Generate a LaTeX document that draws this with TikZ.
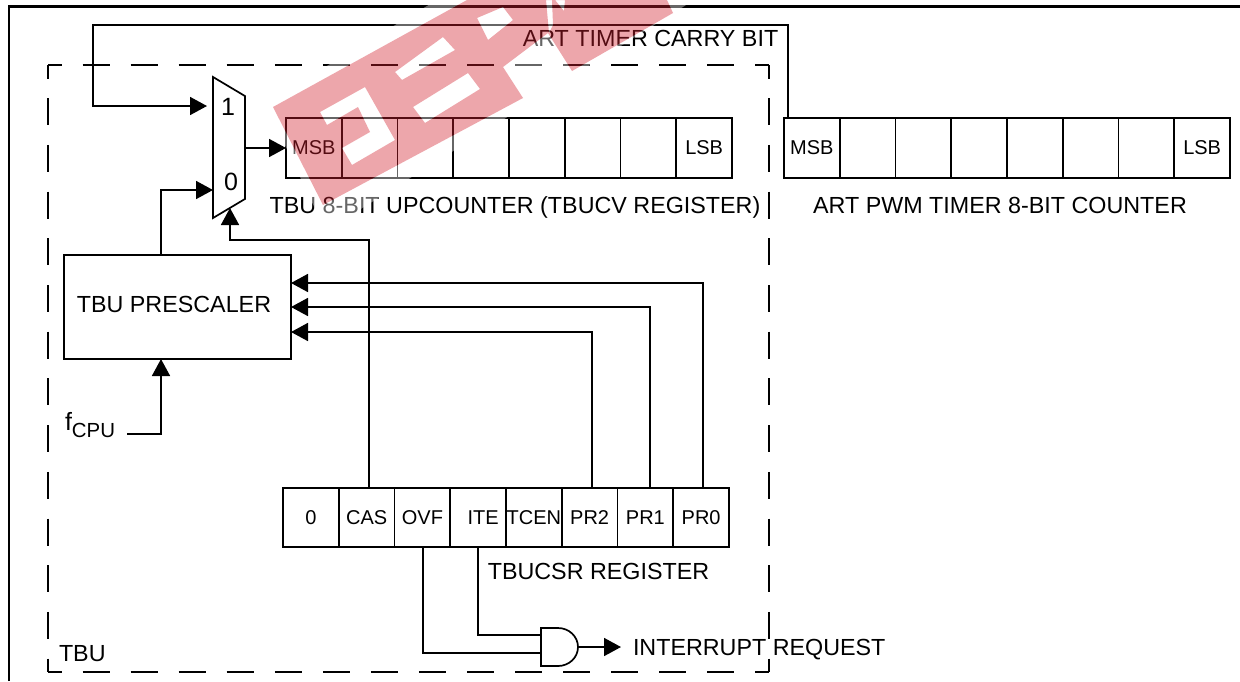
\documentclass[tikz,border=0pt]{standalone}
\usepackage{fontspec}
\setmainfont{Liberation Sans}
\usetikzlibrary{shapes.geometric, arrows.meta}

\definecolor{stampred}{RGB}{210,32,46}

\tikzstyle{regcell} = [
    rectangle,
    minimum width=27.875pt,
    minimum height=29.75pt,
    inner sep=0pt,
    outer sep=0pt,
    line width=0.85pt,
    font=\fontsize{10}{12}\selectfont,
    draw=black
]
\tikzstyle{block} = [
    rectangle,
    minimum width=113.5pt,
    minimum height=52pt,
    inner sep=0pt,
    outer sep=0pt,
    line width=0.85pt,
    font=\fontsize{11.65}{14}\selectfont,
    draw=black
]
\tikzstyle{muxshape} = [
    trapezium,
    trapezium stretches=true,
    shape border rotate=270,
    trapezium left angle=79.5,
    trapezium right angle=79.5,
    minimum width=70.5pt,
    minimum height=16pt,
    inner sep=1pt,
    outer sep=0pt,
    line width=0.85pt,
    draw=black
]
\tikzstyle{andbox} = [
    rectangle,
    minimum width=18.5pt,
    minimum height=19pt,
    inner sep=0pt,
    outer sep=0pt
]
\tikzstyle{caption} = [
    inner sep=0pt,
    outer sep=0pt,
    font=\fontsize{11.65}{14}\selectfont
]
\tikzstyle{muxdigit} = [
    inner sep=0pt,
    outer sep=0pt,
    font=\fontsize{12.5}{14}\selectfont
]
\tikzstyle{wire} = [line width=0.85pt]
\tikzstyle{arrow} = [line width=0.85pt,-{Triangle[length=8.5pt,width=9pt]}]
\tikzstyle{frameline} = [line width=1.1pt]
\tikzstyle{tbuwide} = [line width=0.85pt,dash pattern=on 13.5pt off 10.53pt,dash phase=6.75pt]
\tikzstyle{tbutall} = [line width=0.85pt,dash pattern=on 13.5pt off 9.85pt,dash phase=6.75pt]

\newcommand{\stampbody}{(273,107) -- (467,0) -- (667,0) -- (673,13) -- (572,71) -- (548,33) -- (503,67) -- (523,98) -- (323,205) -- cycle}
\newcommand{\stampholes}{
    (320,112) -- (365,87) -- (395,140) -- (352,165) -- (342,148) -- (370,132) -- (358,107) -- (327,125) -- cycle
    (395,72) -- (443,37) -- (455,50) -- (402,80) -- cycle
    (413,107) -- (468,73) -- (480,89) -- (425,123) -- cycle
    (477,18) -- (503,7) -- (513,20) -- (488,40) -- cycle
    (546,0) -- (552,0) -- (553,25) -- (549,33) -- cycle
    (555,0) -- (565,0) -- (564,11) -- cycle
}

\begin{document}
\begin{tikzpicture}[x=0.5pt,y=-0.5pt,node distance=27.875pt]
\useasboundingbox (0,0) rectangle (1240,681);

\draw [frameline] (9,681) -- (9,6.5) -- (1240,6.5);

\draw [tbuwide] (48,65) -- (769,65);
\draw [tbuwide] (48,672) -- (769,672);
\draw [tbutall] (48,65) -- (48,672);
\draw [tbutall] (769,65) -- (769,672);

\node (mux) at (229,147.5) [muxshape] {};
\node (muxone) at (228,107) [muxdigit] {1};
\node (muxzero) at (231,182) [muxdigit] {0};
\coordinate (inone) at (213,106);
\coordinate (inzero) at (213,190);
\coordinate (insel) at (230,208);

\node (upmsb) at (313.9,148) [regcell] {MSB};
\node (upb6) [regcell, right of=upmsb] {};
\node (upb5) [regcell, right of=upb6] {};
\node (upb4) [regcell, right of=upb5] {};
\node (upb3) [regcell, right of=upb4] {};
\node (upb2) [regcell, right of=upb3] {};
\node (upb1) [regcell, right of=upb2] {};
\node (uplsb) [regcell, right of=upb1] {LSB};

\node (artmsb) at (811.9,148) [regcell] {MSB};
\node (artb6) [regcell, right of=artmsb] {};
\node (artb5) [regcell, right of=artb6] {};
\node (artb4) [regcell, right of=artb5] {};
\node (artb3) [regcell, right of=artb4] {};
\node (artb2) [regcell, right of=artb3] {};
\node (artb1) [regcell, right of=artb2] {};
\node (artlsb) [regcell, right of=artb1] {LSB};

\node (csrzero) at (310.9,517.5) [regcell] {0};
\node (cas) [regcell, right of=csrzero] {CAS};
\node (ovf) [regcell, right of=cas] {OVF};
\node (ite) [regcell, right of=ovf] {\hspace*{5pt}ITE};
\node (tcen) [regcell, right of=ite] {TCEN};
\node (prtwo) [regcell, right of=tcen] {PR2};
\node (prone) [regcell, right of=prtwo] {PR1};
\node (przero) [regcell, right of=prone] {PR0};

\node (prescaler) at (177.5,307) [block] {\raisebox{3pt}{TBU PRESCALER\hspace{3.5pt}}};
\node (fcpu) at (65,425) [caption, anchor=west] {\fontsize{12.5}{14}\selectfont f\raisebox{-3.5pt}{\fontsize{10.2}{12}\selectfont CPU}};
\node (andgate) at (559.5,647) [andbox] {};

\node (carrytext) at (650.5,38) [caption] {ART TIMER CARRY BIT};
\node (uptext) at (515,207) [caption] {TBU 8-BIT UPCOUNTER (TBUCV REGISTER)};
\node (arttext) at (1000,205) [caption] {ART PWM TIMER 8-BIT COUNTER};
\node (csrtext) at (598.5,571) [caption] {TBUCSR REGISTER};
\node (irqtext) at (633,650) [caption, anchor=west] {INTERRUPT REQUEST};
\node (tbutext) at (59,654) [caption, anchor=west] {TBU};

\draw [wire] (andgate.north west) -- ++(8.5pt,0) arc[start angle=90,end angle=-90,x radius=10pt,y radius=9.5pt] -- (andgate.south west) -- cycle;

\draw [arrow] ([xshift=2pt]artmsb.north west) |- (93,25) |- ([xshift=-3pt]inone);
\draw [arrow] ([xshift=-8.25pt]prescaler.north) |- (inzero);
\draw [arrow] (mux.east |- upmsb.west) -- (upmsb.west);
\draw [arrow] ([xshift=1.25pt]cas.north) -- ([xshift=1.25pt]cas.north |- 0,240) -- (230,240) -- (insel);
\draw [arrow] ([xshift=1pt]prtwo.north) |- (prescaler.east |- 0,332);
\draw [arrow] ([xshift=2.3pt]prone.north) |- (prescaler.east |- 0,307);
\draw [arrow] ([xshift=1pt]przero.north) |- (prescaler.east |- 0,283);
\draw [arrow] ([xshift=6pt,yshift=-4.5pt]fcpu.east) -| ([xshift=-8.25pt]prescaler.south);
\draw [wire] ([xshift=0.3pt]ovf.south) |- (andgate.west |- 0,653);
\draw [wire] (ite.south) |- (andgate.west |- 0,635);
\draw [arrow] (andgate.east) -- ([xshift=-6pt]irqtext.west |- andgate.east);

\begin{scope}
\clip (0,0) rectangle (1240,681);
\fill [white, opacity=0.4, even odd rule] (265,103) -- (462,-15) -- (718,-15) -- (340,222) -- (318,215) -- cycle \stampbody \stampholes;
\fill [stampred, opacity=0.4, even odd rule] \stampbody \stampholes;
\end{scope}

\end{tikzpicture}
\end{document}
